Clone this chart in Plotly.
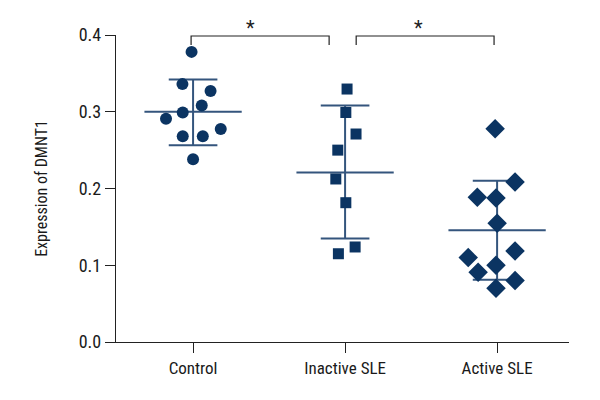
import plotly.graph_objects as go

categories = ["Control", "Inactive SLE", "Active SLE"]

control_vals = [0.378, 0.336, 0.327, 0.308, 0.299, 0.291, 0.2775, 0.268, 0.268, 0.238]
control_jit = [-0.01, -0.07, 0.115, 0.057, -0.068, -0.178, 0.182, -0.068, 0.064, 0.0]

inactive_vals = [0.3296, 0.299, 0.271, 0.250, 0.2124, 0.1815, 0.1238, 0.115]
inactive_jit = [0.013, 0.005, 0.072, -0.048, -0.061, 0.005, 0.066, -0.044]

active_vals = [0.278, 0.2085, 0.1885, 0.1876, 0.1546, 0.1186, 0.110, 0.0999, 0.0908, 0.080, 0.070]
active_jit = [-0.013, 0.118, -0.13, -0.007, 0.0, 0.118, -0.19, -0.007, -0.125, 0.118, -0.007]

means = [0.300, 0.221, 0.1455]
sd_upper = [0.342, 0.308, 0.210]
sd_lower = [0.2565, 0.135, 0.081]

yticks = [0.0, 0.1, 0.2, 0.3, 0.4]

# significance brackets: (x start, x end, star x)
brackets = [(-0.013, 0.895, 0.38), (1.073, 1.98, 1.48)]
bracket_top = 0.3987
bracket_bottom = 0.387

MARK = "#0b3462"
LINE = "#34557d"
FONT = "Roboto Condensed, DejaVu Sans Condensed, sans-serif"

groups = [
    (control_vals, control_jit, "circle", 12),
    (inactive_vals, inactive_jit, "square", 11),
    (active_vals, active_jit, "diamond", 15),
]

fig = go.Figure()

mean_half = 0.32
cap_half = 0.16
for i in range(3):
    xs = [i - mean_half, i + mean_half, None, i, i, None,
          i - cap_half, i + cap_half, None, i - cap_half, i + cap_half]
    ys = [means[i], means[i], None, sd_lower[i], sd_upper[i], None,
          sd_upper[i], sd_upper[i], None, sd_lower[i], sd_lower[i]]
    fig.add_trace(go.Scatter(x=xs, y=ys, mode="lines",
                             line=dict(color=LINE, width=2),
                             hoverinfo="skip", showlegend=False))

for i, (vals, jit, sym, sz) in enumerate(groups):
    fig.add_trace(go.Scatter(
        x=[i + j for j in jit], y=vals, mode="markers",
        marker=dict(symbol=sym, size=sz, color=MARK, line=dict(width=0)),
        showlegend=False, name=categories[i]))

for (x0, x1, xs) in brackets:
    fig.add_trace(go.Scatter(x=[x0, x0, x1, x1],
                             y=[bracket_bottom, bracket_top, bracket_top, bracket_bottom],
                             mode="lines", line=dict(color="#222222", width=1.2),
                             cliponaxis=False, hoverinfo="skip", showlegend=False))
    fig.add_annotation(x=xs, y=0.978, text="*", showarrow=False, yanchor="bottom",
                       font=dict(size=20, color="#222222", family=FONT),
                       xref="x", yref="paper")

fig.update_layout(
    width=600, height=400,
    margin=dict(l=108, r=39, t=27, b=66),
    paper_bgcolor="white", plot_bgcolor="white",
    font=dict(family=FONT, size=17, color="#1a1a1a"),
)
fig.update_xaxes(range=[-0.507, 2.473], tickvals=[0, 1, 2], ticktext=categories,
                 showgrid=False, zeroline=False, showline=True, linecolor="#222222",
                 linewidth=1.3, ticks="outside", ticklen=10, tickcolor="#222222",
                 tickwidth=1.3, tickfont=dict(size=17))
fig.update_yaxes(range=[0, 0.4], tickvals=yticks, tickformat=".1f",
                 showgrid=False, zeroline=False, showline=True, linecolor="#222222",
                 linewidth=1.3, ticks="outside", ticklen=10, tickcolor="#222222",
                 tickwidth=1.3, tickfont=dict(size=18),
                 title=dict(text="Expression of DMNT1", font=dict(size=16), standoff=27))

fig.write_html("out.html")
